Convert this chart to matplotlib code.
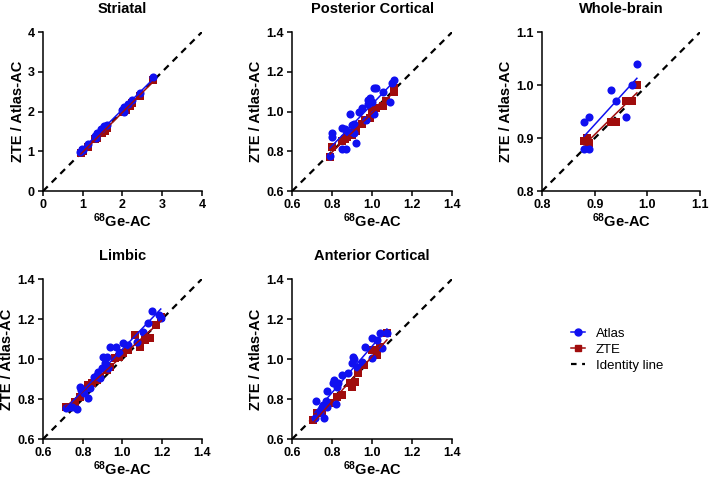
import matplotlib
matplotlib.use('Agg')
import matplotlib.pyplot as plt
from matplotlib.lines import Line2D
import numpy as np

plt.rcParams['font.family'] = ['Liberation Sans', 'DejaVu Sans']
plt.rcParams['mathtext.fontset'] = 'custom'
plt.rcParams['mathtext.bf'] = 'Liberation Sans:bold'
plt.rcParams['mathtext.rm'] = 'Liberation Sans:bold'
plt.rcParams['mathtext.default'] = 'bf'

# Striatal
str_atlas_x = [0.94, 0.98, 1.00, 1.12, 1.30, 1.33, 1.36, 1.45, 1.53, 1.61, 2.00, 2.03, 2.05, 2.15, 2.24, 2.43, 2.78]
str_atlas_y = [0.99, 1.07, 1.03, 1.18, 1.38, 1.34, 1.45, 1.55, 1.64, 1.66, 2.05, 2.00, 2.12, 2.20, 2.29, 2.46, 2.86]
str_zte_x = [0.95, 1.00, 1.13, 1.30, 1.35, 1.48, 1.55, 1.62, 2.02, 2.08, 2.18, 2.25, 2.45, 2.76]
str_zte_y = [0.95, 1.00, 1.10, 1.30, 1.33, 1.45, 1.52, 1.60, 1.98, 2.05, 2.15, 2.22, 2.40, 2.80]

# Posterior Cortical
pc_atlas_x = [0.79, 0.80, 0.80, 0.85, 0.85, 0.87, 0.866, 0.887, 0.877, 0.90, 0.91, 0.92, 0.91, 0.932, 0.95,
              0.97, 0.98, 0.99, 0.98, 1.00, 1.01, 1.02, 1.01, 1.055, 1.09, 1.11, 1.10]
pc_atlas_y = [0.776, 0.89, 0.873, 0.92, 0.81, 0.81, 0.915, 0.99, 0.898, 0.932, 0.94, 0.84, 0.89, 1.00, 1.02,
              0.96, 1.06, 1.066, 1.04, 1.05, 1.117, 1.12, 0.99, 1.10, 1.05, 1.16, 1.145]
pc_zte_x = [0.79, 0.80, 0.85, 0.865, 0.875, 0.88, 0.90, 0.92, 0.95, 0.965, 0.99, 1.00, 1.02, 1.055, 1.07, 1.11, 1.11]
pc_zte_y = [0.77, 0.82, 0.85, 0.86, 0.87, 0.89, 0.88, 0.90, 0.94, 0.956, 0.97, 1.005, 1.02, 1.03, 1.055, 1.10, 1.117]

# Whole-brain
wb_atlas_x = [0.88, 0.89, 0.88, 0.89, 0.93, 0.94, 0.96, 0.97, 0.98]
wb_atlas_y = [0.93, 0.94, 0.88, 0.88, 0.99, 0.97, 0.94, 1.00, 1.04]
wb_zte_x = [0.88, 0.885, 0.89, 0.93, 0.94, 0.96, 0.97, 0.98]
wb_zte_y = [0.895, 0.90, 0.89, 0.93, 0.93, 0.97, 0.97, 1.00]

# Limbic
lim_atlas_x = [0.714, 0.729, 0.745, 0.77, 0.787, 0.792, 0.804, 0.829, 0.837, 0.859, 0.87, 0.879, 0.887, 0.896,
               0.904, 0.913, 0.921, 0.929, 0.937, 0.967, 0.984, 1.004, 1.029, 1.071, 1.104, 1.129, 1.149,
               1.184, 1.193]
lim_atlas_y = [0.753, 0.762, 0.762, 0.75, 0.862, 0.845, 0.828, 0.803, 0.853, 0.912, 0.92, 0.937, 0.903, 0.953,
               1.012, 0.978, 1.012, 0.953, 1.062, 1.062, 1.028, 1.078, 1.07, 1.083, 1.137, 1.178, 1.242,
               1.22, 1.203]
lim_zte_x = [0.714, 0.762, 0.787, 0.804, 0.824, 0.846, 0.871, 0.887, 0.921, 0.937, 0.962, 0.984, 1.004, 1.029,
             1.062, 1.088, 1.113, 1.138, 1.171, 1.196]
lim_zte_y = [0.762, 0.787, 0.812, 0.845, 0.87, 0.878, 0.895, 0.912, 0.945, 0.962, 1.003, 1.012, 1.028, 1.045,
             1.12, 1.062, 1.095, 1.103, 1.17, 1.212]

# Anterior Cortical
ac_atlas_x = [0.714, 0.719, 0.739, 0.747, 0.756, 0.761, 0.769, 0.772, 0.772, 0.806, 0.811, 0.819, 0.823, 0.831,
              0.848, 0.881, 0.897, 0.906, 0.910, 0.923, 0.948, 0.965, 0.998, 0.998, 1.023, 1.04, 1.048, 1.074]
ac_atlas_y = [0.703, 0.79, 0.737, 0.762, 0.77, 0.703, 0.792, 0.842, 0.762, 0.878, 0.895, 0.775, 0.862, 0.878,
              0.92, 0.928, 0.978, 1.012, 0.998, 0.962, 0.987, 1.062, 1.003, 1.103, 1.095, 1.128, 1.053, 1.128]
ac_zte_x = [0.705, 0.725, 0.747, 0.789, 0.823, 0.848, 0.890, 0.898, 0.915, 0.931, 0.957, 0.998, 1.023, 1.04, 1.074]
ac_zte_y = [0.695, 0.728, 0.737, 0.778, 0.812, 0.82, 0.878, 0.862, 0.887, 0.928, 0.97, 1.045, 1.02, 1.062, 1.128]

panels = [
    ('Striatal', str_atlas_x, str_atlas_y, str_zte_x, str_zte_y, (0, 4), [0, 1, 2, 3, 4], '%d'),
    ('Posterior Cortical', pc_atlas_x, pc_atlas_y, pc_zte_x, pc_zte_y, (0.6, 1.4), [0.6, 0.8, 1.0, 1.2, 1.4], '%.1f'),
    ('Whole-brain', wb_atlas_x, wb_atlas_y, wb_zte_x, wb_zte_y, (0.8, 1.1), [0.8, 0.9, 1.0, 1.1], '%.1f'),
    ('Limbic', lim_atlas_x, lim_atlas_y, lim_zte_x, lim_zte_y, (0.6, 1.4), [0.6, 0.8, 1.0, 1.2, 1.4], '%.1f'),
    ('Anterior Cortical', ac_atlas_x, ac_atlas_y, ac_zte_x, ac_zte_y, (0.6, 1.4), [0.6, 0.8, 1.0, 1.2, 1.4], '%.1f'),
]

positions = [
    [0.0607, 0.601, 0.224, 0.332],
    [0.412, 0.601, 0.2257, 0.332],
    [0.7645, 0.601, 0.223, 0.332],
    [0.0607, 0.0835, 0.224, 0.334],
    [0.412, 0.0835, 0.2257, 0.334],
]

blue = '#1010f0'
red = '#a00c0c'

fig = plt.figure(figsize=(7.09, 4.79), dpi=100)

for pos, (title, ax_x, ax_y, zx, zy, lim, ticks, fmt) in zip(positions, panels):
    ax = fig.add_axes(pos)
    ax.plot(lim, lim, color='black', linestyle=(0, (3, 2.5)), linewidth=1.6, zorder=1)
    ax.scatter(zx, zy, marker='s', s=38, color=red, zorder=3, linewidths=0)
    ax.scatter(ax_x, ax_y, marker='o', s=34, color=blue, zorder=4, linewidths=0)
    # regression lines
    for xs, ys, c in [(zx, zy, red), (ax_x, ax_y, blue)]:
        k, b = np.polyfit(xs, ys, 1)
        xx = np.array([min(xs), max(xs)])
        ax.plot(xx, k * xx + b, color=c, linewidth=1.1, zorder=5)
    ax.set_xlim(lim)
    ax.set_ylim(lim)
    ax.set_xticks(ticks)
    ax.set_yticks(ticks)
    ax.set_xticklabels([fmt % t for t in ticks])
    ax.set_yticklabels([fmt % t for t in ticks])
    for s in ['top', 'right']:
        ax.spines[s].set_visible(False)
    for s in ['left', 'bottom']:
        ax.spines[s].set_linewidth(1.1)
    ax.tick_params(direction='out', length=3.5, width=1.1, labelsize=9, pad=2.5)
    for lbl in ax.get_xticklabels() + ax.get_yticklabels():
        lbl.set_fontweight('bold')
    ax.set_title(title, fontsize=10.5, fontweight='bold', pad=14)
    ax.set_xlabel(r'$^{68}$Ge-AC', fontsize=10.5, fontweight='bold', labelpad=0)
    ax.set_ylabel('ZTE / Atlas-AC', fontsize=10.5, fontweight='bold', labelpad=2)
    ax.patch.set_visible(False)

handles = [
    Line2D([], [], color=blue, marker='o', markersize=5, linewidth=1.1),
    Line2D([], [], color=red, marker='s', markersize=5, linewidth=1.1),
    Line2D([], [], color='black', linestyle=(0, (2.5, 2.5)), linewidth=1.6),
]
fig.legend(handles, ['Atlas', 'ZTE', 'Identity line'], loc='center left',
           bbox_to_anchor=(0.788, 0.27), frameon=False, fontsize=9.5, handlelength=1.1,
           handletextpad=0.8, labelspacing=0.3)

fig.savefig('out.png', dpi=100)
